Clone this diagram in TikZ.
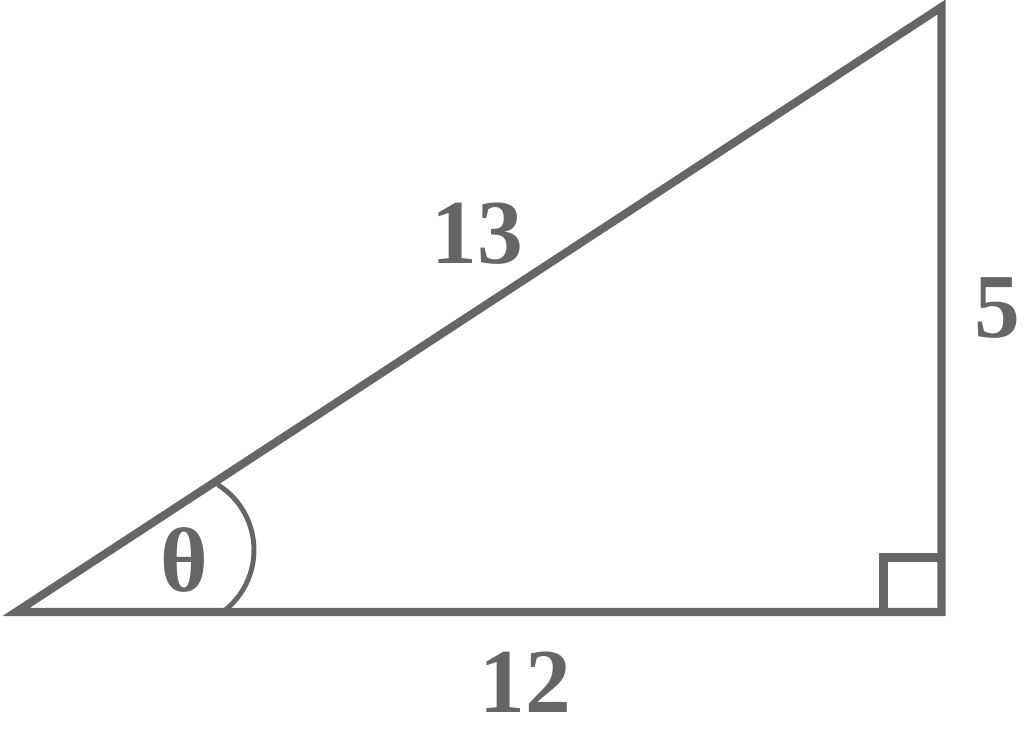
\documentclass[tikz,border=0pt]{standalone}
\usepackage{fontspec}
\setmainfont{Liberation Serif}
\definecolor{edgegray}{RGB}{102,102,102}
\begin{document}
\begin{tikzpicture}[x=0.01cm,y=0.01cm,line width=2.3pt,draw=edgegray]

\useasboundingbox (0,0) rectangle (1024,738);
%Corners of the triangle
\coordinate (A) at (16,126);
\coordinate (B) at (941.5,126);
\coordinate (C) at (941.5,731);
\draw[edgegray] (A) -- (B) -- (C) -- cycle;
%Right angle box and the angle arc
\draw[edgegray] (883.5,126) -- (883.5,180.5) -- (941.5,180.5);
\draw[edgegray,line width=1.4pt] (177,188) ++(58:77) arc (58:-54:77);
%Nodes for the labels
\foreach \x/\y/\t/\n in {477/504/13/hyp,525/56/12/base,997/430/5/side,184/178/θ/ang} \node[text=edgegray,font=\fontsize{26}{30}\selectfont\bfseries] (\n) at (\x,\y) {\t};

\end{tikzpicture}
\end{document}
